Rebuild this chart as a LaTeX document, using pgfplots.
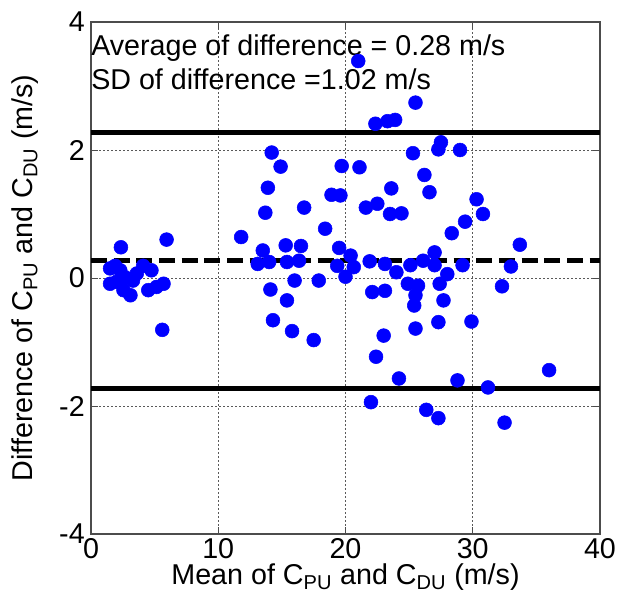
\documentclass[border=0pt]{standalone}
\usepackage{fontspec}
\setmainfont{Liberation Sans}
\usepackage{pgfplots}
\pgfplotsset{compat=1.18}
\usetikzlibrary{calc}
\begin{document}
\fontsize{21.5}{25}\selectfont
\begin{tikzpicture}
\begin{axis}[
  scale only axis, width=381.75pt, height=384pt,
  xmin=0, xmax=40, ymin=-4, ymax=4,
  xtick={0,10,20,30,40}, ytick={-4,-2,0,2,4},
  yticklabels={-4,-2,0,2,4},
  tick align=inside, major tick length=5pt,
  tick style={black!70, line width=0.7pt},
  axis line style={black!70, line width=0.8pt},
  grid=major,
  grid style={black!65, line width=0.6pt, dash pattern=on 1.5pt off 1.5pt},
  /pgf/number format/assume math mode=true,
  ticklabel style={font=\fontsize{21.5}{25}\selectfont},
  xticklabel style={inner ysep=3.5pt},
  yticklabel style={inner xsep=4.5pt},
  label style={font=\fontsize{21.5}{25}\selectfont},
  xlabel={Mean of C\textsubscript{PU} and C\textsubscript{DU} (m/s)},
  ylabel={Difference of C\textsubscript{PU} and C\textsubscript{DU} (m/s)},
  xlabel style={at={(axis description cs:0.5,-0.0996)}, anchor=base},
  ylabel style={at={(axis description cs:-0.114,0.5)}, anchor=base},
  clip=true,
]
\addplot[only marks, mark=*, mark size=5.2pt, color=blue, mark options={fill=blue, draw=blue}] coordinates {
(1.5,-0.09)(1.5,0.15)(1.9,0.19)(2.0,-0.06)(2.3,0.12)(2.35,0.48)(2.55,-0.19)(2.7,0.01)
(3.1,-0.27)(3.3,-0.04)(3.6,0.07)(4.1,0.19)(4.5,-0.19)(4.75,0.12)(5.15,-0.14)(5.6,-0.81)
(5.7,-0.09)(5.94,0.60)
(11.8,0.64)(13.1,0.22)(13.5,0.43)(13.7,1.02)(13.9,1.41)(14.0,0.25)(14.1,-0.18)(14.2,1.96)
(14.3,-0.66)(14.9,1.74)(15.3,0.51)(15.4,0.25)(15.4,-0.35)(15.8,-0.83)(16.0,-0.04)(16.35,0.27)
(16.5,0.50)(16.75,1.10)(17.5,-0.97)(17.9,-0.04)
(18.4,0.77)(18.9,1.30)(19.35,0.19)(19.5,0.47)(19.6,1.29)(19.7,1.75)(20.0,0.02)(20.4,0.35)
(20.65,0.17)(21.0,3.39)(21.1,1.73)(21.6,1.10)(21.9,0.26)(22.0,-1.94)(22.1,-0.22)(22.35,2.41)
(22.4,-1.23)(22.5,1.16)
(23.0,-0.9)(23.1,0.22)(23.1,-0.2)(23.3,2.45)(23.5,1.0)(23.6,1.40)(23.9,2.47)(24.0,0.09)
(24.2,-1.57)(24.4,1.01)(24.9,-0.09)(25.1,0.2)(25.3,1.95)(25.4,-0.43)(25.5,2.74)(25.5,-0.27)
(25.5,-0.79)(25.7,-0.12)(26.2,1.61)(26.1,0.27)(26.35,-2.06)(26.6,1.34)
(27.0,0.40)(27.0,0.20)(27.3,2.01)(27.5,2.12)(27.3,-2.19)(27.3,-0.69)(27.4,-0.09)(27.7,-0.35)
(28.0,0.06)(28.35,0.70)(28.8,-1.6)(29.0,2.0)(29.2,0.2)(29.4,0.88)(29.9,-0.68)(30.3,1.23)
(30.8,1.0)(31.2,-1.71)(32.3,-0.13)(32.5,-2.26)(33.0,0.18)(33.7,0.52)(36.0,-1.44)
};
\addplot[black, line width=3.75pt, forget plot] coordinates {(0,2.28)(40,2.28)};
\addplot[black, line width=3.75pt, forget plot] coordinates {(0,-1.72)(40,-1.72)};
\addplot[black, line width=3.75pt, dash pattern=on 12pt off 5pt, forget plot] coordinates {(0,0.28)(40,0.28)};
\node[anchor=base west, inner sep=0pt] at (axis cs:0,3.47) {Average of difference = 0.28 m/s};
\node[anchor=base west, inner sep=0pt] at (axis cs:0,2.95) {SD of difference =1.02 m/s};
\end{axis}
\pgfresetboundingbox
\path ($(current axis.south west)+(-68.25pt,-55.5pt)$) rectangle ($(current axis.north east)+(14.25pt,16.5pt)$);
\end{tikzpicture}
\end{document}
